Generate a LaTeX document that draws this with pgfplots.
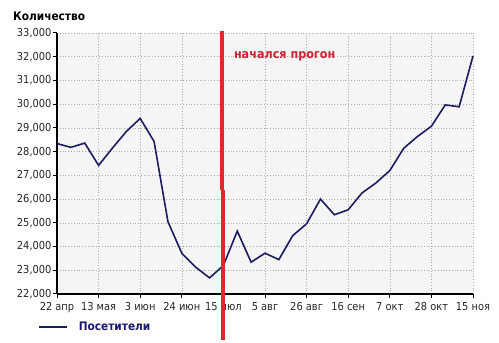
\documentclass[border=0pt]{standalone}
\usepackage{fontspec}
\setmainfont{DejaVu Sans}[FakeStretch=0.9]
\usepackage{pgfplots}
\pgfplotsset{compat=1.18}
\definecolor{navyline}{HTML}{1C1C5E}
\definecolor{navytext}{HTML}{1A1A6E}
\definecolor{redline}{HTML}{E0262E}
\definecolor{redtext}{HTML}{CC2233}
\definecolor{bgc}{HTML}{F5F5F5}
\pgfplotstableread{
x y
0 28340
1 28180
2 28360
3 27420
4 28150
5 28850
6 29400
7 28430
8 25050
9 23720
10 23130
11 22680
12 23200
13 24650
14 23340
15 23720
16 23450
17 24460
18 24960
19 26000
20 25340
21 25550
22 26260
23 26680
24 27200
25 28140
26 28640
27 29070
28 29970
29 29890
30 32030
}\visits
\begin{document}
\begin{tikzpicture}
\begin{axis}[
  scale only axis,
  width=416bp, height=261bp,
  xmin=0, xmax=30, ymin=22000, ymax=33000,
  axis x line*=bottom, axis y line*=left,
  axis line style={-, line width=1.5bp, black},
  axis background/.style={fill=bgc},
  clip=false,
  xtick={0,3,...,30},
  xticklabels={22 апр,13 мая,3 июн,24 июн,15 июл,5 авг,26 авг,16 сен,7 окт,28 окт,15 ноя},
  ytick={22000,23000,...,33000},
  /pgf/number format/assume math mode=true,
  /pgf/number format/1000 sep={,},
  yticklabel style={/pgf/number format/fixed, xshift=2bp},
  scaled y ticks=false,
  ticklabel style={font=\fontsize{11}{13}\selectfont, text=black!85},
  xticklabel style={yshift=-1bp},
  tick align=outside,
  major tick length=4bp,
  tick style={black, line width=1bp},
  grid=major,
  grid style={gray!65, dash pattern=on 0.8bp off 2bp, line width=0.6bp},
  legend style={at={(rel axis cs:-0.0457,-0.1253)}, anchor=west, draw=none, fill=none,
    inner sep=0pt, outer sep=0pt,
    font=\bfseries\fontsize{11.8}{13}\selectfont, text=navytext,
    nodes={inner sep=0pt}, column sep=11bp},
  legend image code/.code={\draw[#1, line width=1.8bp] (0bp,0bp) -- (28bp,0bp);},
]
\addplot[navyline, line width=1.6bp] table[x=x,y=y]{\visits};
\addlegendentry{Посетители}
\draw[redline, line width=4.2bp] (axis cs:11.89,33080) -- (axis cs:11.89,26390);
\draw[redline, line width=4.2bp] (axis cs:11.98,26390) -- (axis cs:11.98,20060);
\node[anchor=west, inner sep=0pt, text=redtext, font=\bfseries\fontsize{12.5}{14}\selectfont] at (axis cs:12.75,32010) {начался прогон};
\end{axis}
\node[anchor=west, inner sep=0pt, font=\bfseries\fontsize{11.8}{13}\selectfont] at ([shift={(-44bp,16.5bp)}]current axis.north west) {Количество};
\path ([shift={(-57bp,-46bp)}]current axis.south west) rectangle ([shift={(26bp,33bp)}]current axis.north east);
\end{tikzpicture}
\end{document}
